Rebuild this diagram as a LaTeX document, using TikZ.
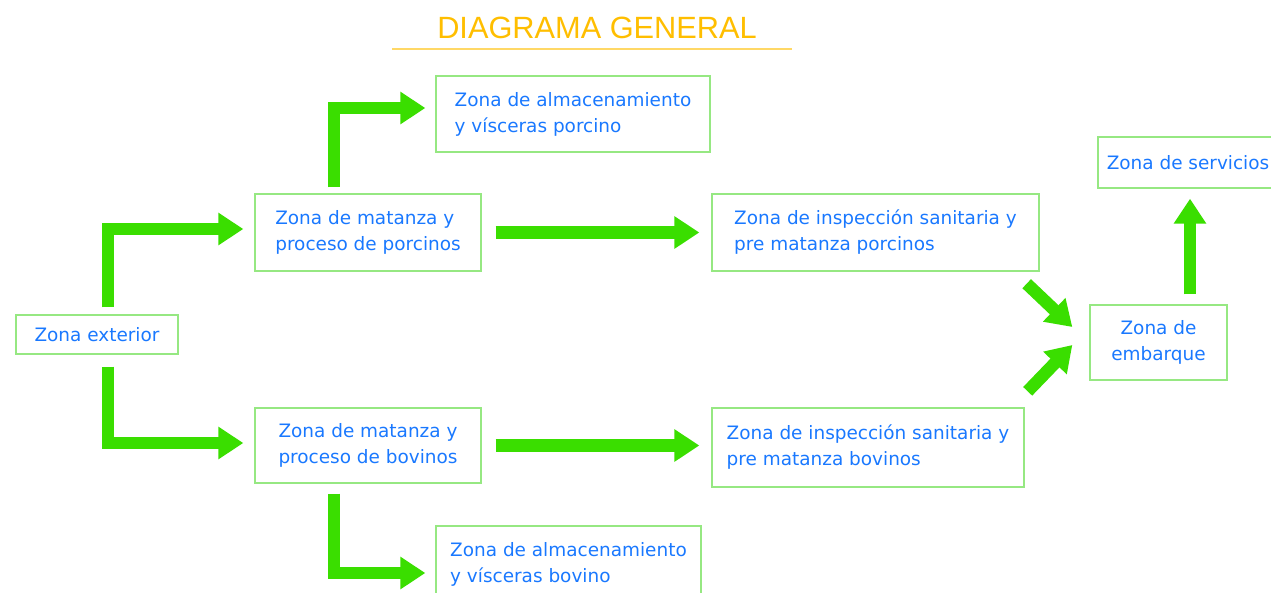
\documentclass[tikz,border=0pt]{standalone}
\usepackage{fontspec}
\setmainfont{DejaVu Sans}
\newfontfamily\titlefont{Liberation Sans}
\usetikzlibrary{arrows.meta}
\definecolor{zonablue}{RGB}{25,120,255}
\definecolor{zonagreen}{RGB}{150,232,130}
\definecolor{flechagreen}{RGB}{58,222,0}
\definecolor{titulogold}{RGB}{255,190,0}
\tikzset{
zona/.style={draw=zonagreen,line width=.8pt,text=zonablue,font=\fontsize{10.5}{14.8}\selectfont,align=left,inner sep=0pt},
flecha/.style={draw=flechagreen,line width=.25cm,-{Triangle[length=.5cm,width=.62cm]}}
}
\begin{document}
\begin{tikzpicture}[x=.02cm,y=-.02cm]
\clip(0,0)rectangle(1271,592);
\node[text=titulogold,font=\titlefont\fontsize{17.5}{20}\selectfont](titulo)at(597,27.5){DIAGRAMA GENERAL};
\draw[titulogold!60,line width=.6pt](392,49)--(792,49);
% zonas
\node[zona,minimum width=3.24cm,minimum height=.78cm](ext)at(97,334.5){Zona exterior};
\node[zona,minimum width=4.52cm,minimum height=1.54cm](mp)at(368,232.5){Zona de matanza y\\proceso de porcinos};
\node[zona,minimum width=5.48cm,minimum height=1.52cm](ap)at(573,114){Zona de almacenamiento\\y vísceras porcino};
\node[zona,minimum width=6.54cm,minimum height=1.54cm](ip)at(875.5,232.5){Zona de inspección sanitaria y\\pre matanza porcinos};
\node[zona,minimum width=4.52cm,minimum height=1.5cm](mb)at(368,445.5){Zona de matanza y\\proceso de bovinos};
\node[zona,minimum width=6.24cm,minimum height=1.58cm](ib)at(868,447.5){Zona de inspección sanitaria y\\pre matanza bovinos};
\node[zona,minimum width=5.3cm,minimum height=1.52cm](ab)at(568.5,564){Zona de almacenamiento\\y vísceras bovino};
\node[zona,align=center,minimum width=2.74cm,minimum height=1.5cm](emb)at(1158.5,342.5){Zona de\\embarque};
\node[zona,minimum width=3.6cm,minimum height=1.02cm](serv)at(1188,162.5){Zona de servicios};
% flechas
\draw[flecha]([shift={(11,-7)}]ext.north)|-([shift={(-11,-3.5)}]mp.west);
\draw[flecha]([shift={(11,12)}]ext.south)|-([shift={(-11,-2.5)}]mb.west);
\draw[flecha]([shift={(-34,-6)}]mp.north)|-([shift={(-10,-6)}]ap.west);
\draw[flecha]([shift={(-34,10)}]mb.south)|-([shift={(-10,9)}]ab.west);
\draw[flecha,shorten <=.28cm,shorten >=.24cm](mp.east)--(mp.east-|ip.west);
\draw[flecha,shorten <=.28cm,shorten >=.24cm](mb.east)--(mb.east-|ib.west);
\draw[flecha]([shift={(-13,12)}]ip.south east)--([shift={(-17,-15.5)}]emb.west);
\draw[flecha]([shift={(3,-16)}]ib.north east)--([shift={(-17,2.5)}]emb.west);
\coordinate(subida)at([shift={(31.5,-10)}]emb.north);
\draw[flecha,shorten >=.2cm](subida)--(subida|-serv.south);
\end{tikzpicture}
\end{document}
